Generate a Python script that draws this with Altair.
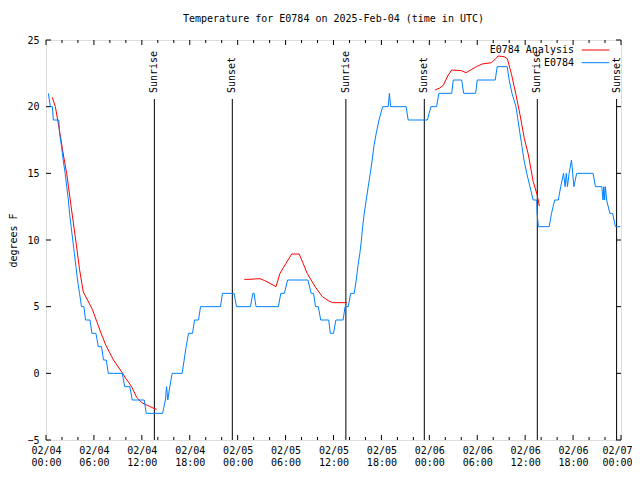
import altair as alt
import pandas as pd

MONO = "DejaVu Sans Mono"

# Observed temperatures (hours since 02/04 00:00 UTC, degrees F)
blue_hours = [0.29, 0.55, 0.80, 0.92, 1.60, 1.70, 1.95, 2.15, 2.40, 2.60, 2.80, 2.95, 3.15, 3.35, 3.55,
              3.75, 3.95, 4.20, 4.45, 4.75, 4.95, 5.50, 5.75, 6.25, 6.55, 6.95, 7.20, 7.55, 7.80, 9.55,
              9.85, 10.50, 10.80, 12.30, 12.55, 14.60, 14.95, 15.10, 15.25, 15.50, 15.80, 17.05, 17.30,
              17.55, 17.85, 18.35, 18.60, 19.10, 19.35, 21.85, 22.10, 23.55, 23.85, 25.60, 25.90, 26.05,
              26.30, 29.10, 29.40, 29.85, 30.25, 32.80, 33.20, 33.50, 33.75, 34.10, 34.40, 35.40, 35.60,
              36.00, 36.30, 37.20, 37.45, 37.85, 38.15, 38.60, 38.85, 39.05, 39.30, 39.50, 39.65, 39.85,
              40.10, 40.35, 40.60, 40.85, 41.05, 41.35, 41.70, 42.15, 42.85, 43.00, 43.15, 45.10, 45.35,
              47.75, 48.20, 48.90, 49.20, 50.80, 51.00, 52.05, 52.30, 53.80, 54.00, 56.25, 56.50, 57.75,
              58.00, 58.35, 58.85, 59.10, 59.35, 59.60, 59.85, 60.20, 60.60, 61.00, 61.45, 61.50, 61.65,
              63.00, 63.30, 63.70, 64.15, 64.45, 64.80, 65.00, 65.15, 65.30, 65.50, 65.80, 66.10, 66.45,
              68.50, 68.80, 69.60, 69.75, 69.85, 69.95, 70.05, 70.20, 70.60, 70.95, 71.30, 71.90]
blue_temps = [21, 20, 20, 19, 19, 18, 17, 16, 15, 14, 13, 12, 11, 10, 9,
              8, 7, 6, 5, 5, 4, 4, 3, 3, 2, 2, 1, 1, 0, 0,
              -1, -1, -2, -2, -3, -3, -2, -1, -2, -1, 0, 0, 1,
              2, 3, 3, 4, 4, 5, 5, 6, 6, 5, 5, 6, 6,
              5, 5, 6, 6, 7, 7, 6, 6, 5, 5, 4, 4, 3,
              3, 4, 4, 5, 5, 6, 6, 7, 8, 9, 10, 11, 12,
              13, 14, 15, 16, 17, 18, 19, 20, 20, 21, 20, 20, 19,
              19, 20, 20, 21, 21, 22, 22, 21, 21, 22, 22, 23, 23,
              22, 21, 20, 19, 18, 17, 16, 15, 14, 13, 13, 12, 11,
              11, 12, 13, 13, 14, 15, 14, 15, 14, 15, 16, 14, 15,
              15, 14, 14, 13, 14, 13, 14, 13, 12, 12, 11, 11]

# Analysis (three separate runs)
red1_hours = [0.79, 1.17, 1.75, 2.20, 2.59, 3.15, 3.72, 4.20, 4.67, 5.20, 5.80, 6.35, 6.90, 7.50,
              8.45, 9.60, 10.00, 10.50, 10.80, 11.35, 12.00, 12.70, 13.40, 13.85]
red1_temps = [20.7, 20.0, 18.0, 16.3, 15.0, 12.5, 10.0, 7.8, 6.1, 5.5, 4.8, 3.9, 3.0, 2.1,
              1.0, 0.0, -0.4, -0.8, -1.1, -1.8, -2.2, -2.4, -2.6, -2.7]
red2_hours = [24.83, 25.40, 26.80, 27.40, 28.05, 28.80, 29.30, 30.05, 30.77, 31.70, 32.20, 32.70,
              33.70, 34.60, 35.35, 35.90, 37.70]
red2_temps = [7.05, 7.05, 7.1, 6.95, 6.75, 6.5, 7.5, 8.25, 8.95, 8.95, 8.25, 7.5,
              6.5, 5.75, 5.45, 5.3, 5.3]
red3_hours = [48.70, 49.30, 49.75, 50.30, 50.80, 52.00, 52.60, 53.30, 53.90, 54.60, 55.80, 56.30,
              56.60, 57.35, 57.77, 58.30, 58.85, 59.35, 59.90, 60.40, 61.00, 61.50, 61.77]
red3_temps = [21.25, 21.4, 21.6, 22.3, 22.75, 22.7, 22.55, 22.8, 23.0, 23.2, 23.3, 23.6,
              23.8, 23.75, 23.6, 22.4, 20.9, 19.4, 17.6, 16.4, 14.4, 13.4, 12.55]

sun_hours = [13.57, 23.33, 37.55, 47.37, 61.52, 71.45]
sun_labels = ["Sunrise", "Sunset", "Sunrise", "Sunset", "Sunrise", "Sunset"]

x_major = list(range(0, 73, 6))
x_minor = [h for h in range(0, 73, 2) if h % 6 != 0]
y_ticks = [-5, 0, 5, 10, 15, 20, 25]

legend_names = ["E0784 Analysis", "E0784"]
legend_colors = ["#ff0000", "#0080ff"]
title_text = "Temperature for E0784 on 2025-Feb-04 (time in UTC)"

W, H = 575, 400
xs = alt.Scale(domain=[0, 72], nice=False, zero=False)
ys = alt.Scale(domain=[-5, 25], nice=False, zero=False)

blue_df = pd.DataFrame({"h": blue_hours, "v": blue_temps})
red_df = pd.concat([
    pd.DataFrame({"h": red1_hours, "v": red1_temps, "seg": 1}),
    pd.DataFrame({"h": red2_hours, "v": red2_temps, "seg": 2}),
    pd.DataFrame({"h": red3_hours, "v": red3_temps, "seg": 3}),
])
sun_df = pd.DataFrame({"h": sun_hours, "label": sun_labels})

x_axis = alt.Axis(values=x_major, ticks=False, domain=False, grid=False,
                  labelExpr="['02/' + format(4 + floor(datum.value / 24), '02d'), format(datum.value % 24, '02d') + ':00']",
                  labelFont=MONO, labelFontSize=10, labelColor="black", labelPadding=5,
                  labelLineHeight=12, labelFlush=False, labelOverlap=False, labelBaseline="top",
                  labelOffset={"expr": "datum.value >= 72 ? -4 : 0"},
                  title=None)
y_axis = alt.Axis(values=y_ticks, ticks=False, domain=False, grid=False,
                  labelFont=MONO, labelFontSize=10, labelColor="black", labelPadding=7,
                  title="degrees F", titleFont=MONO, titleFontSize=10, titleFontWeight="normal",
                  titleColor="black", titleX=-33, titleY=200, titleAngle=270,
                  titleAlign="center", titleBaseline="middle")


def X(field="h"):
    return alt.X(f"{field}:Q", scale=xs, axis=x_axis)


def Y(field="v"):
    return alt.Y(f"{field}:Q", scale=ys, axis=y_axis)


red = alt.Chart(red_df).mark_line(color=legend_colors[0], strokeWidth=1).encode(
    x=X(), y=Y(), detail="seg:N",
)
blue = alt.Chart(blue_df).mark_line(color=legend_colors[1], strokeWidth=1).encode(
    x=X(), y=Y(),
)

sun_rules = alt.Chart(sun_df).mark_rule(color="black", strokeWidth=1).encode(
    x=X(), y=alt.value(H), y2=alt.value(59),
)
sun_text = alt.Chart(sun_df).mark_text(angle=270, align="left", baseline="middle",
                                       font=MONO, fontSize=10, color="black").encode(
    x=X(), y=alt.value(53), text="label:N",
)

tick_layers = []
for vals, ln in [(x_major, 5), (x_minor, 3)]:
    d = pd.DataFrame({"h": vals})
    tick_layers.append(alt.Chart(d).mark_rule(color="black", strokeWidth=1).encode(
        x=X(), y=alt.value(H), y2=alt.value(H - ln)))
    tick_layers.append(alt.Chart(d).mark_rule(color="black", strokeWidth=1).encode(
        x=X(), y=alt.value(0), y2=alt.value(ln)))
yd = pd.DataFrame({"v": y_ticks})
tick_layers.append(alt.Chart(yd).mark_rule(color="black", strokeWidth=1).encode(
    y=Y(), x=alt.value(0), x2=alt.value(5)))
tick_layers.append(alt.Chart(yd).mark_rule(color="black", strokeWidth=1).encode(
    y=Y(), x=alt.value(W), x2=alt.value(W - 5)))

legend_layers = []
for i, (name, col) in enumerate(zip(legend_names, legend_colors)):
    ypix = 10 + i * 12.7
    legend_layers.append(alt.Chart(pd.DataFrame({"t": [name]})).mark_text(
        align="right", baseline="middle", font=MONO, fontSize=10, color="black").encode(
        text="t:N", x=alt.value(528), y=alt.value(ypix)))
    legend_layers.append(alt.Chart(pd.DataFrame({"t": [name]})).mark_rule(
        color=col, strokeWidth=1).encode(
        x=alt.value(535.7), x2=alt.value(563.3), y=alt.value(ypix)))

title_layer = alt.Chart(pd.DataFrame({"t": [title_text]})).mark_text(
    align="center", baseline="middle", font=MONO, fontSize=10, color="black").encode(
    text="t:N", x=alt.value(W / 2), y=alt.value(-21))

chart = alt.layer(
    *tick_layers, sun_rules, sun_text, red, blue, *legend_layers, title_layer
).properties(
    width=W, height=H,
    autosize=alt.AutoSizeParams(type="none"),
    padding={"left": 38, "top": 32, "right": 11, "bottom": 28},
).configure_view(stroke="black", strokeWidth=1).configure(background="white")

chart.save("out.html", embed_options={"renderer": "svg", "actions": False})
